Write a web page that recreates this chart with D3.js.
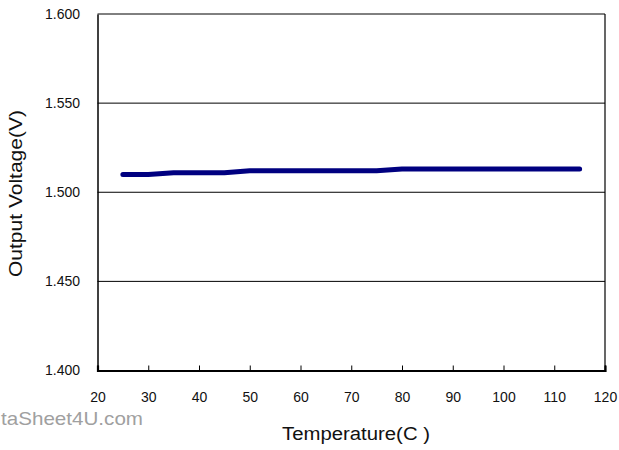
<!DOCTYPE html>
<html><head><meta charset="utf-8">
<script src="https://cdn.jsdelivr.net/npm/d3@7"></script>
<style>body{margin:0;background:#fff}svg{display:block}text{font-family:"Liberation Sans",Arial,sans-serif}</style>
</head><body>
<svg id="c" width="619" height="450"></svg>
<script>
const temps = [25,30,35,40,45,50,55,60,65,70,75,80,85,90,95,100,105,110,115];
const volts = [1.510,1.510,1.511,1.511,1.511,1.512,1.512,1.512,1.512,1.512,1.512,1.513,1.513,1.513,1.513,1.513,1.513,1.513,1.513];
const xTicks = [20,30,40,50,60,70,80,90,100,110,120];
const yTicks = [1.400,1.450,1.500,1.550,1.600];

const svg = d3.select("#c");
const L=97.5,R=605,T=14,B=370.5;
const x = d3.scaleLinear().domain([20,120]).range([L,R]);
const y = d3.scaleLinear().domain([1.4,1.6]).range([B,T]);

// gridlines
svg.append("g").selectAll("line").data(yTicks.filter(d=>d>1.4)).join("line")
  .attr("x1",L).attr("x2",R).attr("y1",d=>y(d)).attr("y2",d=>y(d))
  .attr("stroke","#000").attr("stroke-width",1);
// right border
svg.append("line").attr("x1",R).attr("x2",R).attr("y1",T).attr("y2",B).attr("stroke","#000").attr("stroke-width",1.2);

// x axis
const xa = svg.append("g").attr("transform",`translate(0,${B})`)
  .call(d3.axisBottom(x).tickValues(xTicks).tickSize(-5).tickFormat(d3.format("d")));
xa.select(".domain").attr("stroke-width",2.2);
xa.selectAll(".tick line").attr("stroke-width",1);
xa.selectAll("text").attr("font-size",14).attr("fill","#111").attr("dy",null).attr("y",31.5);
// y axis
const ya = svg.append("g").attr("transform",`translate(${L},0)`)
  .call(d3.axisLeft(y).tickValues(yTicks).tickSize(0).tickPadding(17.5).tickFormat(d3.format(".3f")));
ya.select(".domain").attr("stroke-width",1.5);
ya.selectAll("text").attr("font-size",14).attr("fill","#111").attr("dy","0.3em");

// line
svg.append("path").datum(temps.map((t,i)=>[t,volts[i]]))
  .attr("fill","none").attr("stroke","#000080").attr("stroke-width",5)
  .attr("stroke-linecap","round").attr("stroke-linejoin","round")
  .attr("d",d3.line().x(d=>x(d[0])).y(d=>y(d[1])));

// labels
svg.append("text").attr("transform","translate(22,193.5) rotate(-90)").attr("text-anchor","middle")
  .attr("font-size",19).attr("fill","#111").attr("textLength",167).attr("lengthAdjust","spacingAndGlyphs").text("Output Voltage(V)");
svg.append("text").attr("x",356).attr("y",440).attr("text-anchor","middle")
  .attr("font-size",18).attr("fill","#111").attr("textLength",148).attr("lengthAdjust","spacingAndGlyphs").text("Temperature(C )");
svg.append("text").attr("x",1).attr("y",425)
  .attr("font-size",18.5).attr("fill","#a0a0a0").attr("textLength",142).attr("lengthAdjust","spacingAndGlyphs").text("taSheet4U.com");
</script>
</body></html>
